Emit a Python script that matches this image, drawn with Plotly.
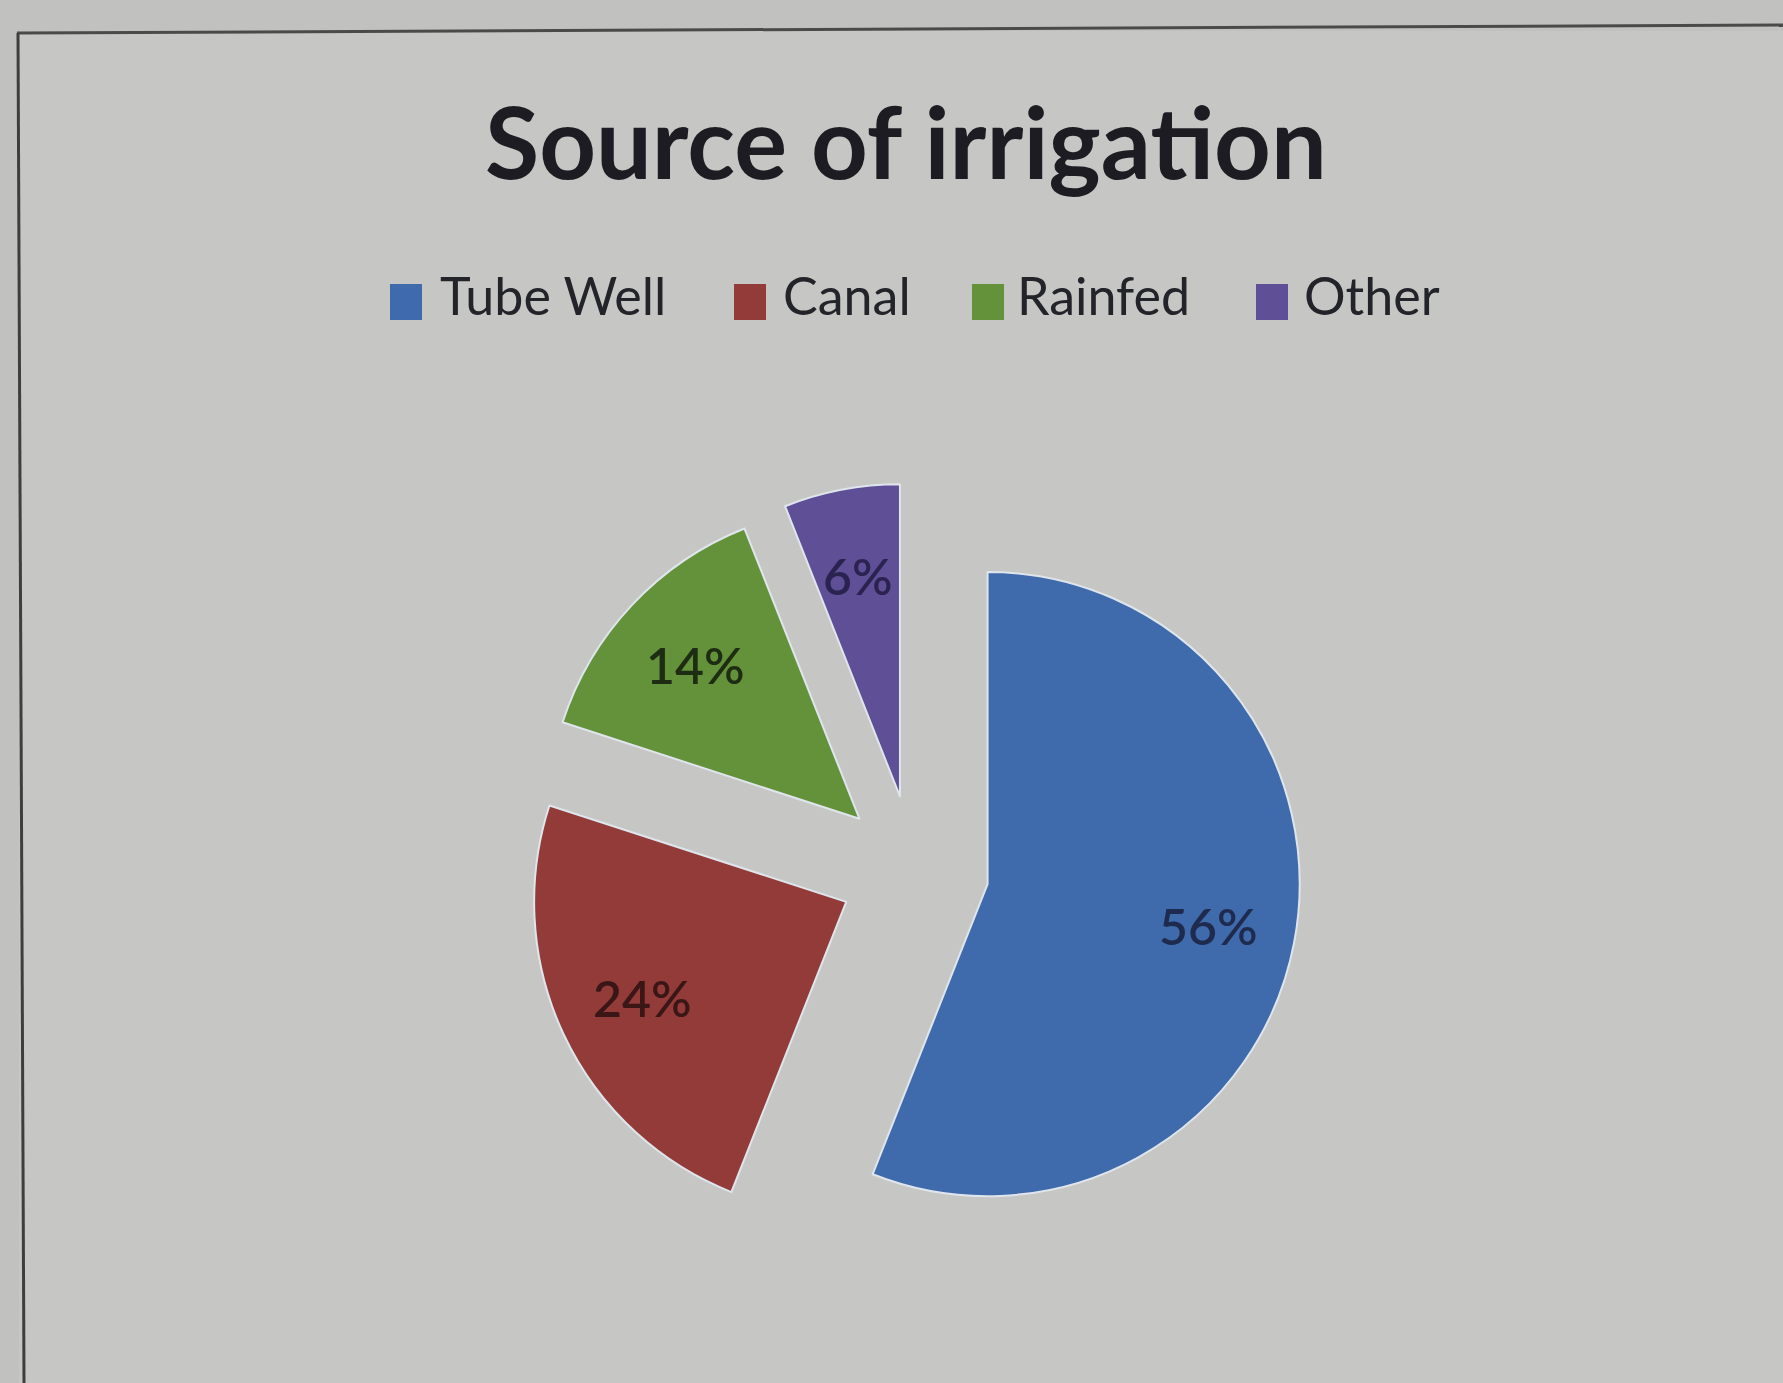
import math
import plotly.graph_objects as go

# Irrigation sources and their shares (%)
labels = ["Tube Well", "Canal", "Rainfed", "Other"]
shares = [56, 24, 14, 6]
colors = ["#3f6aab", "#933b38", "#64923a", "#5f4f96"]
label_colors = ["#1f2b4e", "#3a1616", "#1d2c12", "#2a2350"]

W, H = 1783, 1383
PULL = 0.24
CX, CY, HALF = 914, 870, 387          # pie domain centre / half-size in px
R = HALF / (1 + PULL)                 # slice radius after plotly's pull shrink
LABEL_FRAC = 0.72                     # label distance from slice apex, in radii


def px(x):
    return x / W


def py(y):
    return 1 - y / H


fig = go.Figure()

fig.add_trace(go.Pie(
    labels=labels,
    values=shares,
    sort=False,
    direction="clockwise",
    rotation=0,
    pull=[PULL] * len(shares),
    marker=dict(colors=colors, line=dict(color="#dfe5ec", width=2)),
    textinfo="none",
    domain=dict(x=[px(CX - HALF), px(CX + HALF)], y=[py(CY + HALF), py(CY - HALF)]),
    showlegend=False,
    hoverinfo="label+percent",
))

shapes = [
    # panel background and frame
    dict(type="rect", xref="paper", yref="paper", x0=px(19), x1=1, y0=0, y1=py(31),
         fillcolor="#c6c7c4", line=dict(width=0), layer="below"),
    dict(type="line", xref="paper", yref="paper", x0=px(17), y0=py(33), x1=1, y1=py(25),
         line=dict(color="#4a4a4a", width=3)),
    dict(type="line", xref="paper", yref="paper", x0=px(18), y0=py(33), x1=px(24), y1=0,
         line=dict(color="#3e3e3e", width=3)),
]

annotations = [
    dict(text="<b>Source of irrigation</b>", xref="paper", yref="paper",
         x=px(906), y=py(141), xanchor="center", yanchor="middle", showarrow=False,
         font=dict(family="Lato", size=99, color="#1c1c22")),
]

# Percentage labels, placed along each slice's mid-angle
total = sum(shares)
start = 0.0
for v, c in zip(shares, label_colors):
    mid = math.radians((start + v / 2) / total * 360)
    start += v
    ux, uy = math.sin(mid), -math.cos(mid)
    lx = CX + (PULL + LABEL_FRAC) * R * ux
    ly = CY + (PULL + LABEL_FRAC) * R * uy
    annotations.append(dict(text=f"{v}%", xref="paper", yref="paper",
                            x=px(lx), y=py(ly), xanchor="center", yanchor="middle",
                            showarrow=False,
                            font=dict(family="Lato", size=50, color=c, weight=600)))

# Legend row: coloured square followed by the label
sq_left = [390, 734, 972, 1256]
txt_left = [438, 781, 1015, 1302]
for name, col, sx, tx in zip(labels, colors, sq_left, txt_left):
    shapes.append(dict(type="rect", xref="paper", yref="paper",
                       x0=px(sx), x1=px(sx + 32), y0=py(320), y1=py(284),
                       fillcolor=col, line=dict(width=0)))
    annotations.append(dict(text=name, xref="paper", yref="paper",
                            x=px(tx), y=py(295), xanchor="left", yanchor="middle",
                            showarrow=False,
                            font=dict(family="Lato", size=52, color="#23232a")))

fig.update_layout(
    width=W, height=H,
    margin=dict(l=0, r=0, t=0, b=0),
    paper_bgcolor="#c1c2c0",
    plot_bgcolor="#c1c2c0",
    shapes=shapes,
    annotations=annotations,
)

fig.write_html("out.html")
